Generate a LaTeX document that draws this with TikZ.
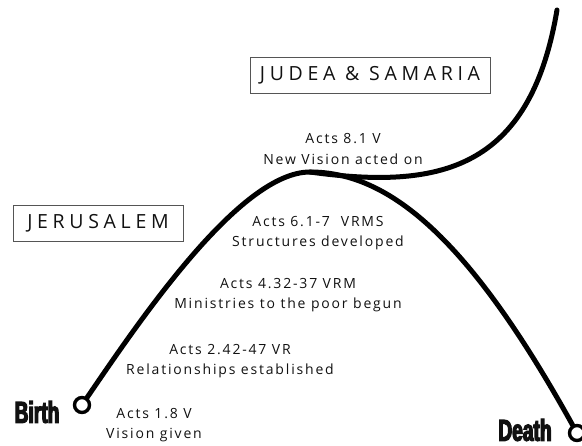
\documentclass[tikz,border=0pt]{standalone}
\usepackage{fontspec}
\setmainfont{Open Sans}[LetterSpace=13]
\newfontfamily\regionfont{Open Sans}[LetterSpace=24]
\newfontfamily\heavyfont{Liberation Sans}[FakeStretch=0.64,FakeBold=4]
\definecolor{Ink}{HTML}{111111}
\definecolor{Frame}{HTML}{555555}

\begin{document}
\begin{tikzpicture}[x=1pt,y=-1pt,every node/.style={text=Ink},
  ring/.style={circle,draw=black,line width=3.4pt,fill=white,minimum size=15pt,inner sep=0pt},
  lifeline/.style={line width=5pt,line cap=round},
  region/.style={draw=Frame,line width=.8pt,minimum height=36pt,font=\regionfont\fontsize{19.5}{20}\selectfont},
  stage/.style={align=center,font=\fontsize{14}{20.5}\selectfont},
  endlabel/.style={font=\heavyfont\bfseries\fontsize{30}{30}\selectfont}]
  \useasboundingbox (0,0) rectangle (582,446);

  % Start and end of the life cycle.
  \node[ring] (birth) at (82,405) {};
  \node[ring] (death) at (577,433) {};
  \node[endlabel] (birthlbl) at (37,412) {Birth};
  \node[endlabel] (deathlbl) at (525,430) {Death};
  \coordinate (crest) at (310,172);
  \coordinate (renewal) at (557,10);

  % Main arc and the new branch from its crest.
  \draw[lifeline] (birth) .. controls (140,320) and (240,172) .. (crest)
    .. controls (390,172) and (470,240) .. (death);
  \draw[lifeline] (crest) .. controls (440,190) and (530,170) .. (renewal);

  % Regions.
  \node[region,minimum width=170pt] (jerusalem) at (98,223.5) {JERUSALEM};
  \node[region,minimum width=240pt] (judea) at (370,75) {JUDEA \& SAMARIA};

  % Stages along the arc.
  \node[stage] (acts18) at (154,425) {Acts 1.8 V\\Vision given};
  \node[stage] (acts242) at (230,361) {Acts 2.42-47 VR\\Relationships established};
  \node[stage] (acts432) at (288,295) {Acts 4.32-37 VRM\\Ministries to the poor begun};
  \node[stage] (acts61) at (318,233) {Acts 6.1-7~ VRMS\\Structures developed};
  \node[stage] (acts81) at (343,149) {Acts 8.1 V\\New Vision acted on};
\end{tikzpicture}
\end{document}
